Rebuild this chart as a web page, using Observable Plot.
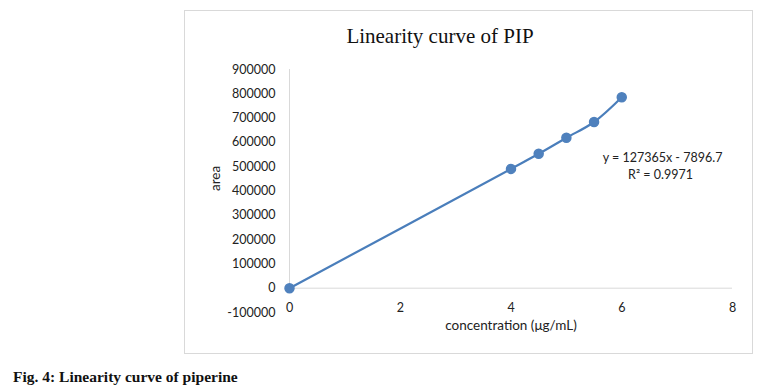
<!DOCTYPE html>
<html>
<head>
<meta charset="utf-8">
<script src="https://cdn.jsdelivr.net/npm/d3@7"></script>
<script src="https://cdn.jsdelivr.net/npm/@observablehq/plot@0.6"></script>
<style>
  html, body { margin: 0; padding: 0; background: #fff; }
  #wrap { position: relative; width: 769px; height: 392px; overflow: hidden; }
  #frame { position: absolute; left: 184px; top: 10px; width: 569px; height: 344px; border: 1px solid #d9d9d9; box-sizing: border-box; }
  #title { position: absolute; left: 240px; width: 400px; top: 24px; text-align: center; font-family: "Liberation Serif", serif; font-size: 21px; color: #111; }
  #chart { position: absolute; left: 0; top: 0; }
  #caption { position: absolute; left: 13px; top: 368px; font-family: "Liberation Serif", serif; font-weight: bold; font-size: 15.5px; color: #111; }
</style>
</head>
<body>
<div id="wrap">
  <div id="frame"></div>
  <div id="title">Linearity curve of PIP</div>
  <div id="chart"></div>
  <div id="caption">Fig. 4: Linearity curve of piperine</div>
</div>
<script>
const concentration = [0, 4, 4.5, 5, 5.5, 6];
const area = [0, 491000, 553000, 619000, 684000, 786000];
const yTicks = [-100000, 0, 100000, 200000, 300000, 400000, 500000, 600000, 700000, 800000, 900000];
const xTicks = [0, 2, 4, 6, 8];
const equation = "y = 127365x - 7896.7";
const r2 = "R² = 0.9971";

const data = concentration.map((c, i) => ({c, a: area[i]}));
const font = "Lato, 'Open Sans', sans-serif";

const chart = Plot.plot({
  width: 769,
  height: 340,
  marginLeft: 289,
  marginRight: 37,
  marginTop: 69,
  marginBottom: 28,
  style: {fontFamily: font, fontSize: "12.5px", color: "#222", background: "transparent"},
  x: {domain: [0, 8], ticks: xTicks},
  y: {domain: [-100000, 900000], ticks: yTicks},
  marks: [
    Plot.ruleY([0], {x1: 0, x2: 8, stroke: "#d9d9d9", strokeWidth: 1}),
    Plot.ruleX([0], {y1: 0, y2: 900000, stroke: "#d9d9d9", strokeWidth: 1}),
    Plot.axisY({ticks: yTicks, tickSize: 0, tickPadding: 14, tickFormat: d => String(d), label: null}),
    Plot.axisX({ticks: xTicks, tickSize: 0, tickPadding: -9, tickFormat: d => String(d), label: null}),
    Plot.text(["area"], {frameAnchor: "left", dx: -74, rotate: -90, fontSize: 13.5, fill: "#222"}),
    Plot.text(["concentration (μg/mL)"], {frameAnchor: "bottom", dy: 17, fontSize: 13.5, fill: "#222"}),
    Plot.line(data, {x: "c", y: "a", curve: "catmull-rom", stroke: "#4a7ebb", strokeWidth: 2.2}),
    Plot.dot(data, {x: "c", y: "a", r: 4.5, fill: "#4f81bd", stroke: "#4f81bd"}),
    Plot.text([equation], {frameAnchor: "top-right", dy: 84, dx: -70, fontSize: 12.5, fill: "#222", textAnchor: "middle"}),
    Plot.text([r2], {frameAnchor: "top-right", dy: 101, dx: -72, fontSize: 12.5, fill: "#222", textAnchor: "middle"})
  ]
});
document.getElementById("chart").appendChild(chart);
</script>
</body>
</html>
